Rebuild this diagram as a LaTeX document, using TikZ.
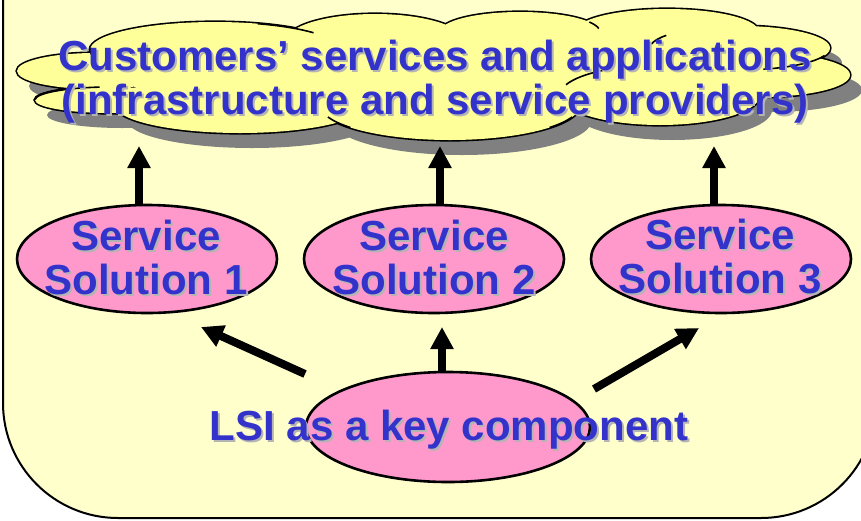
\documentclass[tikz,border=0pt]{standalone}
\usepackage{fontspec}
\setmainfont{Liberation Sans}
\usetikzlibrary{arrows.meta,shapes.geometric}

\definecolor{panelyellow}{HTML}{FFFFCC}
\definecolor{cloudyellow}{HTML}{FFFF99}
\definecolor{cloudshadow}{HTML}{808080}
\definecolor{solutionpink}{HTML}{FF99CC}
\definecolor{labelblue}{HTML}{3333CC}
\definecolor{labelshade}{HTML}{B4B4B4}

\tikzset{
  panel/.style={
    draw=black,
    line width=2pt,
    fill=panelyellow,
    rounded corners=115pt,
  },
  pink oval/.style={
    ellipse,
    draw=black,
    line width=2.6pt,
    fill=solutionpink,
    minimum width={#1},
    minimum height=108,
    inner sep=0pt,
  },
  fat arrow/.style={
    line width=8pt,
    -{Triangle[length=22pt,width=22pt]},
  },
  cloud line/.style={
    draw=black,
    line width=1.6pt,
  },
  big label/.style={
    font=\bfseries\fontsize{42}{44}\selectfont,
    text=labelblue,
    align=center,
    inner sep=0pt,
  },
  label shade/.style={
    big label,
    text=labelshade,
  }
}

% lobes of the cloud, in pixel-like units (y grows downwards)
\newcommand{\cloudlobes}{
  (95,71) ellipse [x radius=78, y radius=18]
  (110,100) ellipse [x radius=75, y radius=13]
  (215,50) ellipse [x radius=125, y radius=28]
  (240,105) ellipse [x radius=125, y radius=28]
  (375,42) ellipse [x radius=90, y radius=28]
  (520,32) ellipse [x radius=80, y radius=20]
  (667,32) ellipse [x radius=92, y radius=23]
  (740,48) ellipse [x radius=90, y radius=22]
  (760,75) ellipse [x radius=90, y radius=22]
  (660,95) ellipse [x radius=100, y radius=30]
  (450,105) ellipse [x radius=130, y radius=35]
  (440,75) ellipse [x radius=320, y radius=40]
}

% blue text with a light drop shadow
\newcommand{\shadedlabel}[3]{
  \node[label shade] (#1-shade) at ([shift={(2,2)}]#2) {#3};
  \node[big label] (#1) at (#2) {#3};
}

\begin{document}
\begin{tikzpicture}[x=1pt, y=-1pt]
  \useasboundingbox (0,0) rectangle (861,520);
  \draw[panel] (3,-150) rectangle (876,518);

  % cloud: shadow, outline, fill, then a few creases
  \fill[cloudshadow, shift={(12,15)}] \cloudlobes;
  \draw[cloud line, line width=3.2pt] \cloudlobes;
  \fill[cloudyellow] \cloudlobes;
  \draw[cloud line] ([shift={(182:75 and 13)}]110,100) arc[start angle=182, end angle=262, x radius=75, y radius=13];
  \draw[cloud line] ([shift={(185:125 and 28)}]215,50) arc[start angle=185, end angle=160, x radius=125, y radius=28];
  \draw[cloud line] ([shift={(290:125 and 28)}]215,50) arc[start angle=290, end angle=322, x radius=125, y radius=28];
  \draw[cloud line] ([shift={(330:80 and 20)}]520,32) arc[start angle=330, end angle=350, x radius=80, y radius=20];
  \draw[cloud line] ([shift={(190:90 and 22)}]740,48) arc[start angle=190, end angle=215, x radius=90, y radius=22];
  \draw[cloud line] ([shift={(20:90 and 22)}]740,48) arc[start angle=20, end angle=75, x radius=90, y radius=22];
  \draw[cloud line] ([shift={(200:100 and 30)}]660,95) arc[start angle=200, end angle=235, x radius=100, y radius=30];
  \draw[cloud line] ([shift={(160:130 and 35)}]450,105) arc[start angle=160, end angle=140, x radius=130, y radius=35];
  \draw[cloud line] ([shift={(20:130 and 35)}]450,105) arc[start angle=20, end angle=40, x radius=130, y radius=35];

  \shadedlabel{customers}{435,82}{Customers’ services and applications\\(infrastructure and service providers)}

  % service solutions
  \node[pink oval=260] (s1) at (147,259) {};
  \node[pink oval=260] (s2) at (434,259) {};
  \node[pink oval=260] (s3) at (721,259) {};
  \coordinate (up1) at (139,146);
  \coordinate (up2) at (440,146);
  \coordinate (up3) at (714,146);
  \draw[fat arrow] (s1.north -| up1) -- (up1);
  \draw[fat arrow] (s2.north -| up2) -- (up2);
  \draw[fat arrow] (s3.north -| up3) -- (up3);
  \shadedlabel{sol1}{146,257}{Service\\Solution 1}
  \shadedlabel{sol2}{434,257}{Service\\Solution 2}
  \shadedlabel{sol3}{720,257}{Service\\Solution 3}

  % LSI at the bottom
  \node[pink oval=284, minimum height=110] (lsi) at (448,427) {};
  \coordinate (left tail) at (305,374);
  \coordinate (left tip) at (201,327);
  \coordinate (mid tip) at (442,327);
  \coordinate (right tail) at (594,389);
  \coordinate (right tip) at (699,328);
  \draw[fat arrow] (left tail) -- (left tip);
  \draw[fat arrow] (lsi.north -| mid tip) -- (mid tip);
  \draw[fat arrow] (right tail) -- (right tip);
  \shadedlabel{lsi text}{449,430}{LSI as a key component}
\end{tikzpicture}
\end{document}
